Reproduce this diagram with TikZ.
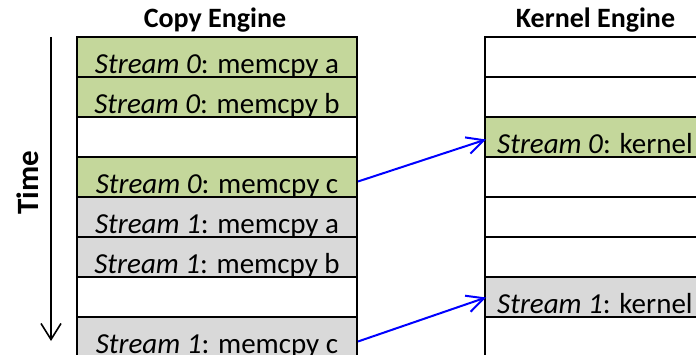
\documentclass[tikz,border=0pt]{standalone}
\usepackage{fontspec}
\setmainfont{Carlito}
\usetikzlibrary{arrows.meta}
\definecolor{rowgreen}{RGB}{196,215,155}
\definecolor{rowgray}{RGB}{217,217,217}
\definecolor{arrowblue}{RGB}{0,0,255}
\tikzset{
  x=1pt,y=-1pt,
  cell/.style={draw=black,line width=2pt,minimum width=280pt,minimum height=40pt,inner sep=0pt,anchor=north west},
  kcell/.style={cell,minimum width=240pt},
  g/.style={fill=rowgreen},
  gr/.style={fill=rowgray},
  wh/.style={fill=white},
  lbl/.style={font=\fontsize{29}{34}\selectfont,inner sep=0pt,anchor=base},
  klbl/.style={font=\fontsize{29}{34}\selectfont,inner sep=0pt,anchor=base west},
  title/.style={font=\fontsize{28}{33}\selectfont\bfseries,inner sep=0pt,anchor=base},
  flow/.style={draw=arrowblue,line width=2pt,-{Straight Barb[length=17pt,width=17pt,line width=2pt]}},
  timearrow/.style={draw=black,line width=1.6pt,-{Straight Barb[length=16pt,width=20pt,line width=1.6pt]}}
}
\begin{document}
\begin{tikzpicture}
\useasboundingbox (0,0) rectangle (696,355);
\clip (0,0) rectangle (696,355);
\fill[white] (0,0) rectangle (696,355);
% Copy engine rows
\node[cell,g]  (c0) at (76,36.5) {};
\node[cell,g]  (c1) at (76,76.5) {};
\node[cell,wh] (c2) at (76,116.5) {};
\node[cell,g]  (c3) at (76,156.5) {};
\node[cell,gr] (c4) at (76,196.5) {};
\node[cell,gr] (c5) at (76,236.5) {};
\node[cell,wh] (c6) at (76,276.5) {};
\node[cell,gr] (c7) at (76,316.5) {};
% Kernel engine rows
\node[kcell,wh] (k0) at (484,36.5) {};
\node[kcell,wh] (k1) at (484,76.5) {};
\node[kcell,g]  (k2) at (484,116.5) {};
\node[kcell,wh] (k3) at (484,156.5) {};
\node[kcell,wh] (k4) at (484,196.5) {};
\node[kcell,wh] (k5) at (484,236.5) {};
\node[kcell,gr] (k6) at (484,276.5) {};
\node[kcell,wh] (k7) at (484,316.5) {};
% labels
\node[lbl] (t0) at ([yshift=5pt]c0.south) {\textit{Stream 0}: memcpy a};
\node[lbl] (t1) at ([yshift=5pt]c1.south) {\textit{Stream 0}: memcpy b};
\node[lbl] (t3) at ([yshift=5pt]c3.south) {\textit{Stream 0}: memcpy c};
\node[lbl] (t4) at ([yshift=5pt]c4.south) {\textit{Stream 1}: memcpy a};
\node[lbl] (t5) at ([yshift=5pt]c5.south) {\textit{Stream 1}: memcpy b};
\node[lbl] (t7) at ([yshift=5pt]c7.south) {\textit{Stream 1}: memcpy c};
\node[klbl] (u2) at ([xshift=13pt,yshift=5pt]k2.south west) {\textit{Stream 0}: kernel};
\node[klbl] (u6) at ([xshift=13pt,yshift=5pt]k6.south west) {\textit{Stream 1}: kernel};
% titles
\node[title] (copyT) at (215,28) {Copy Engine};
\node[title] (kernT) at (595.5,28) {Kernel Engine};
% time
\node[font=\fontsize{31}{36}\selectfont\bfseries,inner sep=0pt,anchor=base,rotate=90] (timeT) at (38,183) {Time};
\coordinate (tstart) at (51,37);
\coordinate (tend) at (51,341);
\draw[timearrow] (tstart) -- (tend);
% flow arrows
\draw[flow] ([yshift=-4pt]c3.east) -- ([xshift=2pt,yshift=-2pt]k2.west);
\draw[flow] ([yshift=-4pt]c7.east) -- ([xshift=2pt,yshift=0pt]k6.west);
\end{tikzpicture}
\end{document}
